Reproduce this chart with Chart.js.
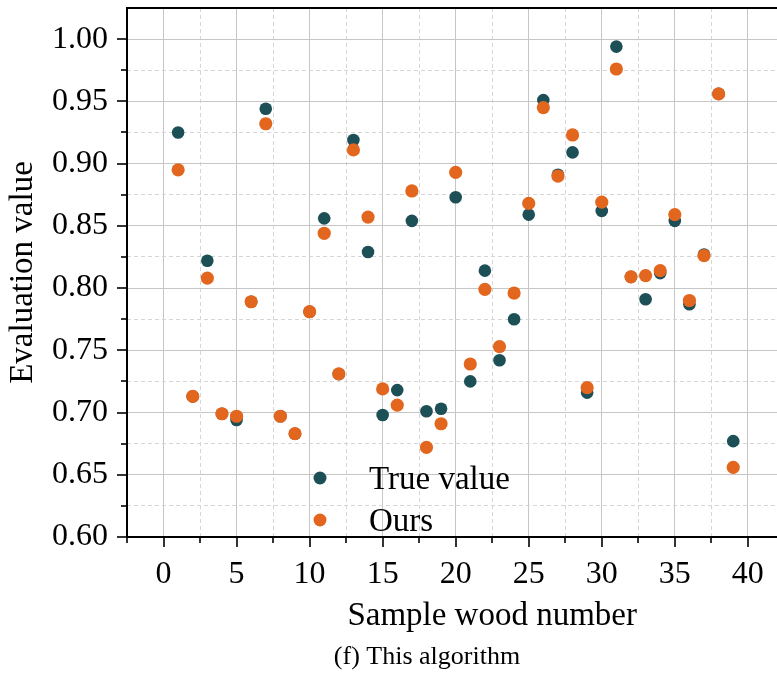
<!DOCTYPE html>
<html>
<head>
<meta charset="utf-8">
<script src="https://cdn.jsdelivr.net/npm/chart.js@4.4.1/dist/chart.umd.min.js"></script>
<style>
  html, body { margin: 0; padding: 0; background: #fff; overflow: hidden; }
  #wrap { width: 864px; height: 678px; }
</style>
</head>
<body>
<div id="wrap"><canvas id="chart" width="864" height="678"></canvas></div>
<script>
const samples = [1, 2, 3, 4, 5, 6, 7, 8, 9, 10, 11, 12, 13, 14, 15, 16, 17, 18, 19, 20,
  21, 22, 23, 24, 25, 26, 27, 28, 29, 30, 31, 32, 33, 34, 35, 36, 37, 38, 39];
const trueValues = [0.925, 0.713, 0.822, 0.699, 0.694, 0.789, 0.944, 0.697, 0.683, 0.781,
  0.856, 0.731, 0.919, 0.829, 0.698, 0.718, 0.854, 0.701, 0.703, 0.873,
  0.725, 0.814, 0.742, 0.775, 0.859, 0.951, 0.891, 0.909, 0.716, 0.862,
  0.994, 0.809, 0.791, 0.812, 0.854, 0.787, 0.827, 0.956, 0.677];
const oursValues = [0.895, 0.713, 0.808, 0.699, 0.697, 0.789, 0.932, 0.697, 0.683, 0.781,
  0.844, 0.731, 0.911, 0.857, 0.719, 0.706, 0.878, 0.672, 0.691, 0.893,
  0.739, 0.799, 0.753, 0.796, 0.868, 0.945, 0.890, 0.923, 0.720, 0.869,
  0.976, 0.809, 0.810, 0.814, 0.859, 0.790, 0.826, 0.956, 0.656];
const seriesNames = ['True value', 'Ours'];
const seriesColors = ['#1c4f56', '#e2661e'];

const xMajorTicks = [0, 5, 10, 15, 20, 25, 30, 35, 40];
const xMinorTicks = [-2.5, 2.5, 7.5, 12.5, 17.5, 22.5, 27.5, 32.5, 37.5];
const yMajorTicks = [0.60, 0.65, 0.70, 0.75, 0.80, 0.85, 0.90, 0.95, 1.00];
const yMinorTicks = [0.625, 0.675, 0.725, 0.775, 0.825, 0.875, 0.925, 0.975];

const serif = '"Liberation Serif", "Times New Roman", serif';

const toPoints = vals => samples.map((s, i) => ({ x: s, y: vals[i] }));
const setTicks = list => scale => { scale.ticks = list.map(v => ({ value: v })); };
const noEdgePad = scale => {
  scale.paddingTop = 0;
  scale.paddingBottom = 0;
  scale.paddingLeft = 0;
  scale.paddingRight = 0;
};

// frame top line, outward tick marks, legend and caption
const decor = {
  id: 'decor',
  afterDraw(chart) {
    const { ctx, chartArea: a, scales } = chart;
    ctx.save();
    ctx.strokeStyle = '#000';
    ctx.lineWidth = 2;
    ctx.beginPath();
    ctx.moveTo(a.left - 1, a.top);
    ctx.lineTo(a.right, a.top);
    ctx.stroke();

    ctx.lineWidth = 1.6;
    const xMark = (vals, len) => vals.forEach(v => {
      const px = Math.round(scales.x.getPixelForValue(v));
      ctx.beginPath();
      ctx.moveTo(px, a.bottom);
      ctx.lineTo(px, a.bottom + len);
      ctx.stroke();
    });
    const yMark = (vals, len) => vals.forEach(v => {
      const py = Math.round(scales.y.getPixelForValue(v));
      ctx.beginPath();
      ctx.moveTo(a.left, py);
      ctx.lineTo(a.left - len, py);
      ctx.stroke();
    });
    xMark(xMajorTicks, 10);
    xMark(xMinorTicks, 6);
    yMark(yMajorTicks, 10);
    yMark(yMinorTicks, 6);

    // legend
    ctx.font = '33px ' + serif;
    ctx.textAlign = 'left';
    ctx.textBaseline = 'alphabetic';
    seriesNames.forEach((name, i) => {
      const cy = 478 + i * 42;
      ctx.fillStyle = seriesColors[i];
      ctx.beginPath();
      ctx.arc(320, cy, 6.5, 0, Math.PI * 2);
      ctx.fill();
      ctx.fillStyle = '#000';
      ctx.fillText(name, 369, cy + 11);
    });

    // caption
    ctx.font = '26px ' + serif;
    ctx.textAlign = 'center';
    ctx.fillText('(f) This algorithm', 427, 664);
    ctx.restore();
  }
};

new Chart(document.getElementById('chart'), {
  type: 'scatter',
  data: {
    datasets: [
      {
        label: seriesNames[0],
        data: toPoints(trueValues),
        backgroundColor: seriesColors[0],
        borderWidth: 0,
        pointRadius: 6.3,
        pointHoverRadius: 6.3,
        order: 2
      },
      {
        label: seriesNames[1],
        data: toPoints(oursValues),
        backgroundColor: seriesColors[1],
        borderWidth: 0,
        pointRadius: 6.6,
        pointHoverRadius: 6.6,
        order: 1
      }
    ]
  },
  options: {
    responsive: false,
    animation: false,
    layout: { padding: { top: 8, left: 0, right: 0, bottom: 0 } },
    plugins: {
      legend: { display: false },
      tooltip: { enabled: false }
    },
    scales: {
      x: {
        type: 'linear',
        position: 'bottom',
        min: -2.5,
        max: 47.5,
        afterBuildTicks: setTicks(xMajorTicks),
        afterFit: scale => { scale.height = 141; noEdgePad(scale); },
        ticks: {
          font: { family: serif, size: 32 },
          color: '#000',
          padding: 18,
          maxRotation: 0,
          callback: v => String(v)
        },
        grid: { color: '#c6c6c6', lineWidth: 1, drawTicks: false },
        border: { display: true, color: '#000', width: 2 },
        title: {
          display: true,
          text: 'Sample wood number',
          color: '#000',
          font: { family: serif, size: 33 },
          padding: { top: 0, bottom: 42 }
        }
      },
      xMinor: {
        type: 'linear',
        position: 'bottom',
        min: -2.5,
        max: 47.5,
        afterBuildTicks: setTicks(xMinorTicks),
        afterFit: noEdgePad,
        ticks: { display: false },
        grid: { color: '#d6d6d6', lineWidth: 1, drawTicks: false },
        border: { display: false, dash: [4, 3] }
      },
      y: {
        type: 'linear',
        position: 'left',
        min: 0.6,
        max: 1.025,
        afterBuildTicks: setTicks(yMajorTicks),
        afterFit: scale => { scale.width = 127; noEdgePad(scale); },
        ticks: {
          font: { family: serif, size: 32 },
          color: '#000',
          padding: 19,
          callback: v => v.toFixed(2)
        },
        grid: { color: '#c6c6c6', lineWidth: 1, drawTicks: false },
        border: { display: true, color: '#000', width: 2 },
        title: {
          display: true,
          text: 'Evaluation value',
          color: '#000',
          font: { family: serif, size: 33 },
          padding: { top: 4, bottom: 0 }
        }
      },
      yMinor: {
        type: 'linear',
        position: 'left',
        min: 0.6,
        max: 1.025,
        afterBuildTicks: setTicks(yMinorTicks),
        afterFit: noEdgePad,
        ticks: { display: false },
        grid: { color: '#d6d6d6', lineWidth: 1, drawTicks: false },
        border: { display: false, dash: [4, 3] }
      }
    }
  },
  plugins: [decor]
});
</script>
</body>
</html>
